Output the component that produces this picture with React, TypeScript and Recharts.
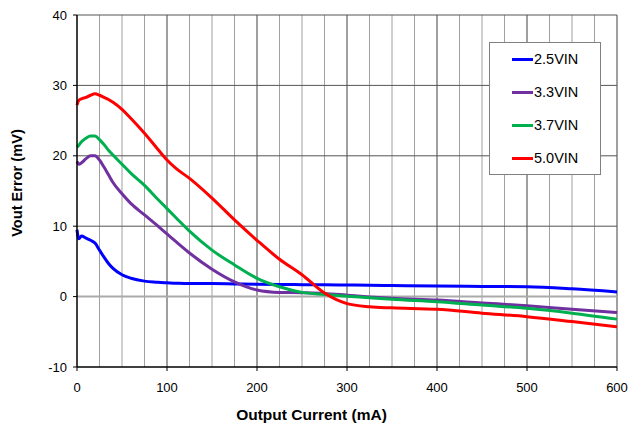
import { LineChart, Line, XAxis, YAxis, ReferenceLine } from 'recharts'

const FONT = 'Arial, "Liberation Sans", sans-serif'

// output current (mA) sample points shared by all curves
const CURRENT = [0, 2, 5, 10, 15, 20, 25, 30, 35, 40, 50, 60, 75, 90, 100, 110, 125, 150, 175, 200, 225, 250, 275, 300, 325, 350, 400, 450, 500, 550, 600]

// Vout error (mV)
const VIN_25 = [9.5, 8.2, 8.6, 8.3, 8.0, 7.6, 6.6, 5.6, 4.7, 4.0, 3.1, 2.6, 2.2, 2.05, 1.95, 1.9, 1.85, 1.85, 1.8, 1.75, 1.72, 1.7, 1.68, 1.65, 1.62, 1.58, 1.5, 1.45, 1.4, 1.1, 0.65]
const VIN_33 = [19.2, 18.8, 19.0, 19.6, 20.0, 20.0, 19.4, 18.4, 17.3, 16.2, 14.6, 13.2, 11.6, 10.0, 8.9, 7.8, 6.2, 3.9, 2.1, 0.95, 0.6, 0.55, 0.45, 0.2, -0.05, -0.25, -0.5, -0.9, -1.3, -1.8, -2.25]
const VIN_37 = [21.2, 21.5, 22.0, 22.5, 22.8, 22.8, 22.3, 21.6, 20.8, 20.1, 18.8, 17.5, 15.8, 13.8, 12.5, 11.2, 9.3, 6.6, 4.5, 2.6, 1.4, 0.6, 0.3, 0.05, -0.15, -0.38, -0.72, -1.2, -1.66, -2.35, -3.2]
const VIN_50 = [27.2, 27.9, 28.1, 28.3, 28.6, 28.8, 28.6, 28.3, 28.0, 27.6, 26.6, 25.3, 23.2, 20.9, 19.4, 18.2, 16.8, 14.0, 10.9, 8.0, 5.3, 3.1, 0.5, -1.0, -1.45, -1.6, -1.8, -2.35, -2.85, -3.55, -4.3]

const X_TICKS = [0, 100, 200, 300, 400, 500, 600]
const X_MINOR = [25, 50, 75, 125, 150, 175, 225, 250, 275, 325, 350, 375, 425, 450, 475, 525, 550, 575]
const Y_TICKS = [-10, 0, 10, 20, 30, 40]

const SERIES = [
  { key: 'v25', name: '2.5VIN', color: '#0000ff', values: VIN_25 },
  { key: 'v33', name: '3.3VIN', color: '#7030a0', values: VIN_33 },
  { key: 'v37', name: '3.7VIN', color: '#00b050', values: VIN_37 },
  { key: 'v50', name: '5.0VIN', color: '#ff0000', values: VIN_50 },
]

const rows = CURRENT.map((x, i) => {
  const r: Record<string, number> = { x }
  SERIES.forEach((s) => (r[s.key] = s.values[i]))
  return r
})

const tick = { fill: '#000', fontSize: 13, fontFamily: FONT }

export default function App() {
  return (
    <div style={{ position: 'absolute', left: 0, top: 0, width: 630, height: 433, background: '#fff', fontFamily: FONT }}>
      <LineChart width={630} height={433} data={rows} margin={{ top: 15, right: 13, bottom: 30, left: 0 }}>
        {X_MINOR.map((v) => (
          <ReferenceLine key={'m' + v} x={v} stroke="#a0a0a0" strokeWidth={1} />
        ))}
        {X_TICKS.filter((v) => v > 0).map((v) => (
          <ReferenceLine key={'x' + v} x={v} stroke="#404040" strokeWidth={1} />
        ))}
        {Y_TICKS.filter((v) => v !== 0 && v !== -10).map((v) => (
          <ReferenceLine key={'y' + v} y={v} stroke="#555" strokeWidth={1} />
        ))}
        <ReferenceLine y={0} stroke="#aaaaaa" strokeWidth={2} />
        <XAxis
          type="number"
          dataKey="x"
          domain={[0, 600]}
          ticks={X_TICKS}
          tick={tick}
          tickSize={4}
          tickMargin={12}
          stroke="#000"
          axisLine={{ stroke: '#000', strokeWidth: 1.5 }}
          height={36}
        />
        <YAxis
          type="number"
          domain={[-10, 40]}
          ticks={Y_TICKS}
          tick={tick}
          tickSize={4}
          tickMargin={6}
          stroke="#000"
          axisLine={{ stroke: '#000', strokeWidth: 1.5 }}
          width={77}
        />
        {SERIES.map((s) => (
          <Line
            key={s.key}
            dataKey={s.key}
            name={s.name}
            type="monotone"
            stroke={s.color}
            strokeWidth={3}
            dot={false}
            isAnimationActive={false}
          />
        ))}
      </LineChart>

      <div
        style={{
          position: 'absolute', left: 16.5, top: 183, transform: 'translate(-50%, -50%) rotate(-90deg)',
          whiteSpace: 'nowrap', fontWeight: 'bold', fontSize: 14.6,
        }}
      >
        Vout Error (mV)
      </div>
      <div
        style={{
          position: 'absolute', left: 311.5, top: 415, transform: 'translate(-50%, -50%)',
          whiteSpace: 'nowrap', fontWeight: 'bold', fontSize: 15.5,
        }}
      >
        Output Current (mA)
      </div>

      <div
        style={{
          position: 'absolute', left: 489, top: 42, width: 110, height: 131,
          background: '#fff', border: '1px solid #808080',
        }}
      >
        {SERIES.map((s, i) => (
          <div
            key={s.key}
            style={{ position: 'absolute', left: 22, top: 7 + i * 33, height: 18, display: 'flex', alignItems: 'center', fontSize: 14.5 }}
          >
            <span style={{ display: 'inline-block', width: 21, height: 3, background: s.color, marginRight: 1 }} />
            {s.name}
          </div>
        ))}
      </div>
    </div>
  )
}
